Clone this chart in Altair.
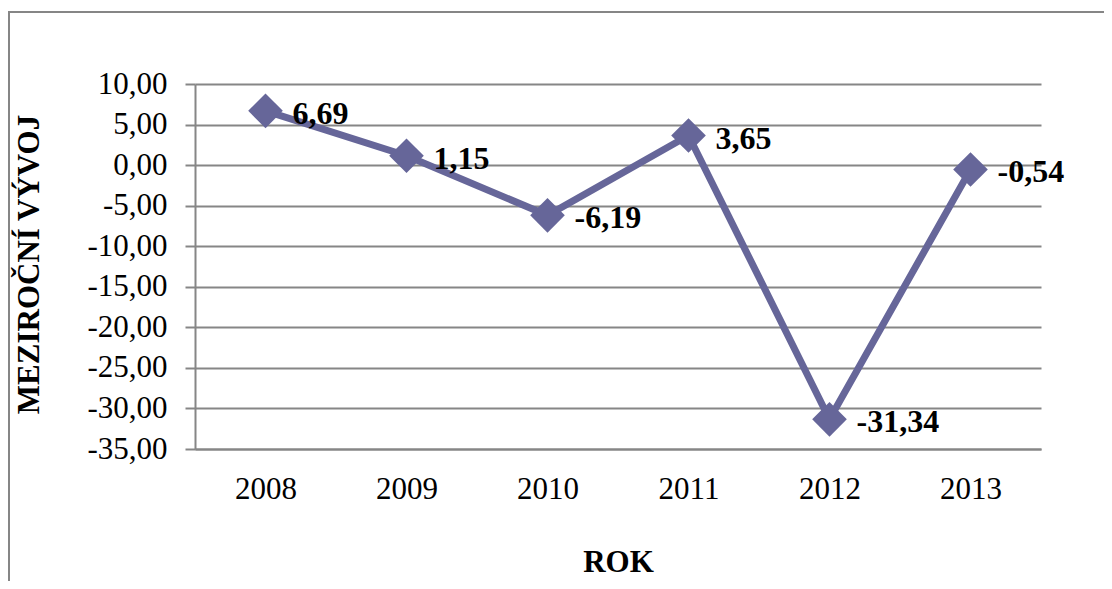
import altair as alt
import pandas as pd

years = ["2008", "2009", "2010", "2011", "2012", "2013"]
values = [6.69, 1.15, -6.19, 3.65, -31.34, -0.54]
y_ticks = [10, 5, 0, -5, -10, -15, -20, -25, -30, -35]

df = pd.DataFrame({"rok": years, "v": values})

FONT = "Liberation Serif"
GRAY = "#868686"
LINE = "#666699"

x_enc = alt.X("rok:O", sort=years,
              scale=alt.Scale(type="point", padding=0.5),
              axis=alt.Axis(title="ROK", labelAngle=0, ticks=False, grid=False,
                            domainColor=GRAY, domainWidth=2,
                            labelFont=FONT, labelFontSize=31, labelColor="black",
                            labelPadding=25, labelBaseline="top",
                            titleFont=FONT, titleFontSize=31, titleFontWeight="bold",
                            titleColor="black", titleX=423, titleY=113,
                            titleBaseline="middle", titleAlign="center"))
y_enc = alt.Y("v:Q",
              scale=alt.Scale(domain=[-35, 10], nice=False, zero=False),
              axis=alt.Axis(title="MEZIROČNÍ VÝVOJ", values=y_ticks, format=".2f",
                            grid=True, gridColor=GRAY, gridWidth=2,
                            domainColor=GRAY, domainWidth=2,
                            tickColor=GRAY, tickWidth=2, tickSize=10,
                            labelFont=FONT, labelFontSize=31, labelColor="black",
                            labelPadding=18,
                            titleFont=FONT, titleFontSize=31, titleFontWeight="bold",
                            titleColor="black", titleX=-166, titleY=180,
                            titleAngle=270, titleBaseline="middle", titleAlign="center"))

base = alt.Chart(df)
line = base.mark_line(color=LINE, strokeWidth=7).encode(x=x_enc, y=y_enc)
pts = base.mark_point(shape="diamond", filled=True, size=1200, color=LINE, opacity=1).encode(
    x=alt.X("rok:O", sort=years), y="v:Q")
labels = base.mark_text(align="left", baseline="middle", dx=27, dy=3, fontSize=32,
                        fontWeight="bold", font=FONT, color="black").encode(
    x=alt.X("rok:O", sort=years), y="v:Q", text=alt.Text("v:Q", format=".2f"))

frame_df = pd.DataFrame({"a": [0]})
frame_left = alt.Chart(frame_df).mark_rule(color=GRAY, strokeWidth=2).encode(
    x=alt.value(-186), y=alt.value(-72), y2=alt.value(520))
frame_top = alt.Chart(frame_df).mark_rule(color=GRAY, strokeWidth=2).encode(
    x=alt.value(-187), x2=alt.value(930), y=alt.value(-72))

chart = alt.layer(frame_left, frame_top, line, pts, labels).properties(
    width=846, height=365,
    autosize=alt.AutoSizeParams(type="none"),
    padding={"left": 187, "top": 76, "right": 63, "bottom": 132},
).configure(
    locale={"number": {"decimal": ",", "thousands": " ", "grouping": [3],
                       "currency": ["", " Kč"], "minus": "-"}}
).configure_view(stroke=None)

chart.save("out.html", embed_options={"renderer": "svg", "actions": False})
